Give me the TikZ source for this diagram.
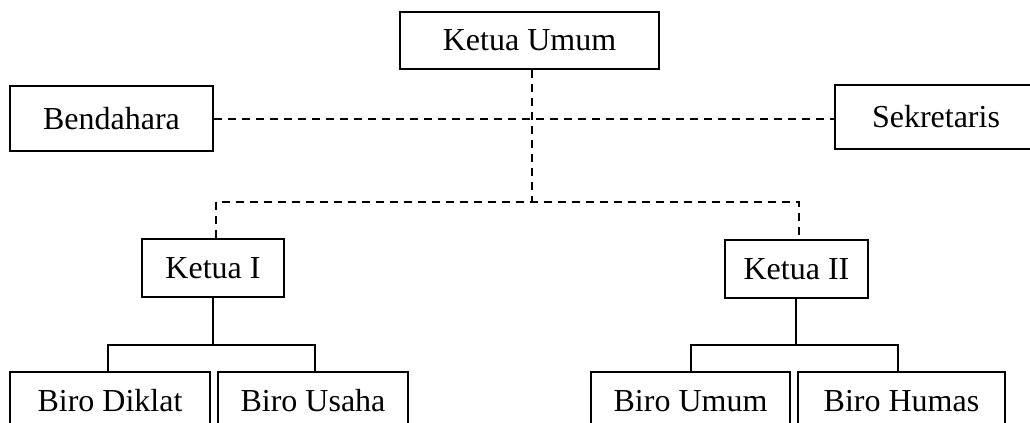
\documentclass[tikz,border=0pt]{standalone}
\usepackage{fontspec}
\setmainfont{Liberation Serif}

\begin{document}
\begin{tikzpicture}[x=0.5pt,y=-0.5pt,
        unit/.style={draw, line width=1pt, inner sep=0pt, font=\fontsize{16}{19}\selectfont},
        link/.style={line width=0.9pt},
        dotlink/.style={line width=1pt, dash pattern=on 4pt off 3pt}]

        % Fix the page to the size of the reference
        \useasboundingbox (0,0) rectangle (1030,423);

        % Top level
        \node[unit, minimum width=129.5pt, minimum height=28.5pt] (umum) at (529.5,40.5) {Ketua Umum};
        \node[unit, minimum width=101.5pt, minimum height=32.5pt] (bendahara) at (111.5,118.5) {Bendahara};
        \node[unit, minimum width=101.5pt, minimum height=32pt] (sekretaris) at (936,117) {Sekretaris};

        % Second level
        \node[unit, minimum width=71pt, minimum height=29pt] (ketuaI) at (213,268) {Ketua I};
        \node[unit, minimum width=71.5pt, minimum height=29pt] (ketuaII) at (796.5,269) {Ketua II};

        % Biro boxes (cut off by the page edge)
        \node[unit, minimum width=100pt, minimum height=29pt] (diklat) at (110,401) {Biro Diklat};
        \node[unit, minimum width=95pt, minimum height=29pt] (usaha) at (313,401) {Biro Usaha};
        \node[unit, minimum width=99.5pt, minimum height=29pt] (biroumum) at (690.5,401) {Biro Umum};
        \node[unit, minimum width=103.5pt, minimum height=29pt] (humas) at (901.5,401) {Biro Humas};

        % Junction points
        \coordinate (split) at (532,202);
        \coordinate (jI) at (213,345);
        \coordinate (jII) at (796,345);

        % Dashed lines from Ketua Umum
        \draw[dotlink] (bendahara.east) -- (bendahara.east -| sekretaris.west);
        \draw[dotlink] (umum.south -| split) -- (split);
        \draw[dotlink] (ketuaI.north -| 216,0) |- (split) -| (ketuaII.north -| 799,0);

        % Solid lines down to the biro boxes
        \draw[link] (ketuaI.south) -- (jI);
        \draw[link] (diklat.north -| 108,0) |- (jI) -| (usaha.north -| 315,0);
        \draw[link] (ketuaII.south -| jII) -- (jII);
        \draw[link] (biroumum.north -| 691,0) |- (jII) -| (humas.north -| 898,0);
    \end{tikzpicture}
\end{document}
